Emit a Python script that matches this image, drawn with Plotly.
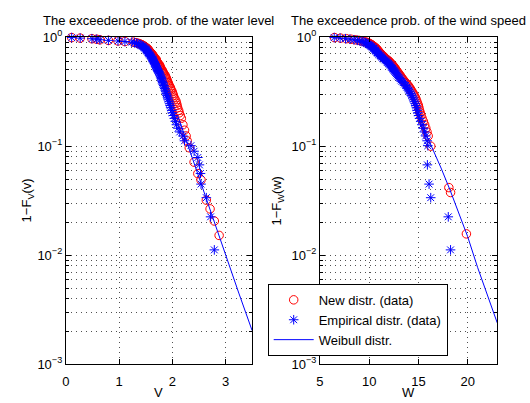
import plotly.graph_objects as go
from plotly.subplots import make_subplots

W_PX, H_PX = 530, 403

# ---- water level V ----
water_new_v = [2.88, 2.79, 2.71, 2.64, 2.54, 2.48, 2.41, 2.32, 2.28, 2.26, 2.23, 2.20, 2.17, 2.15, 2.13, 2.12,
               2.10, 2.09, 2.08, 2.07, 2.05, 2.03, 2.02, 2.01, 2.00, 1.98,
               1.97, 1.96, 1.94, 1.93, 1.92, 1.91, 1.90, 1.89, 1.88, 1.87,
               1.86, 1.84, 1.83, 1.82, 1.81, 1.80, 1.78, 1.77, 1.77, 1.76,
               1.75, 1.73, 1.72, 1.71, 1.70, 1.70, 1.69, 1.67, 1.66, 1.65,
               1.64, 1.63, 1.62, 1.61, 1.59, 1.58, 1.57, 1.56, 1.55, 1.54,
               1.53, 1.51, 1.49, 1.48, 1.46, 1.44, 1.42, 1.39, 1.36, 1.32, 1.27,
               1.11, 0.98, 0.80, 0.64, 0.58, 0.49, 0.27, 0.11]
water_new_p = [0.0152, 0.0206, 0.0266, 0.032, 0.049, 0.056, 0.0714, 0.0966, 0.112, 0.124, 0.140, 0.157, 0.180, 0.191, 0.202, 0.213,
               0.225, 0.236, 0.247, 0.258, 0.270, 0.281, 0.292, 0.303, 0.315, 0.326,
               0.337, 0.348, 0.360, 0.371, 0.382, 0.393, 0.404, 0.416, 0.427, 0.438,
               0.449, 0.461, 0.472, 0.483, 0.494, 0.506, 0.517, 0.528, 0.539, 0.551,
               0.562, 0.573, 0.584, 0.596, 0.607, 0.618, 0.629, 0.640, 0.652, 0.663,
               0.674, 0.685, 0.697, 0.708, 0.719, 0.730, 0.742, 0.753, 0.764, 0.775,
               0.787, 0.798, 0.809, 0.820, 0.831, 0.843, 0.854, 0.865, 0.876, 0.888, 0.899,
               0.910, 0.921, 0.933, 0.944, 0.955, 0.966, 0.978, 0.989]

water_emp_v = [2.79, 2.72, 2.64, 2.54, 2.53, 2.51, 2.48, 2.41, 2.35, 2.23,
               2.20, 2.14, 2.11, 2.08, 2.06, 2.04, 2.02, 2.00, 1.99, 1.97,
               1.96, 1.95, 1.94, 1.92, 1.91, 1.90, 1.89, 1.88, 1.87, 1.86,
               1.85, 1.84, 1.83, 1.82, 1.81, 1.80, 1.80, 1.79, 1.78, 1.77,
               1.76, 1.75, 1.74, 1.73, 1.72, 1.71, 1.70, 1.70, 1.69, 1.68,
               1.67, 1.66, 1.65, 1.64, 1.64, 1.63, 1.62, 1.61, 1.60, 1.59,
               1.58, 1.57, 1.56, 1.55, 1.54, 1.53, 1.52, 1.51, 1.50, 1.49,
               1.48, 1.46, 1.45, 1.43, 1.41, 1.39, 1.36, 1.33, 1.29, 1.24,
               1.11, 0.98, 0.80, 0.64, 0.58, 0.49, 0.27, 0.11]
water_emp_p = [0.0112, 0.0225, 0.0337, 0.0449, 0.0562, 0.0674, 0.0787, 0.0899, 0.101, 0.112,
               0.124, 0.135, 0.146, 0.157, 0.169, 0.180, 0.191, 0.202, 0.213, 0.225,
               0.236, 0.247, 0.258, 0.270, 0.281, 0.292, 0.303, 0.315, 0.326, 0.337,
               0.348, 0.360, 0.371, 0.382, 0.393, 0.404, 0.416, 0.427, 0.438, 0.449,
               0.461, 0.472, 0.483, 0.494, 0.506, 0.517, 0.528, 0.539, 0.551, 0.562,
               0.573, 0.584, 0.596, 0.607, 0.618, 0.629, 0.640, 0.652, 0.663, 0.674,
               0.685, 0.697, 0.708, 0.719, 0.730, 0.742, 0.753, 0.764, 0.775, 0.787,
               0.798, 0.809, 0.820, 0.831, 0.843, 0.854, 0.865, 0.876, 0.888, 0.899,
               0.910, 0.921, 0.933, 0.944, 0.955, 0.966, 0.978, 0.989]

water_weib_v = [2.10, 2.20, 2.40, 2.60, 2.80, 3.00, 3.25, 3.50]
water_weib_p = [0.192, 0.138, 0.0720, 0.0372, 0.0195, 0.0100, 0.00450, 0.00204]

# ---- wind speed W ----
wind_new_w = [19.87, 18.26, 18.09, 16.25,
              15.99, 15.87, 15.75, 15.63, 15.50, 15.37, 15.27, 15.19, 15.11, 15.05,
              14.99, 14.91, 14.83, 14.75, 14.67, 14.57, 14.48, 14.37, 14.27, 14.17,
              14.07, 13.95, 13.83, 13.70, 13.58, 13.47, 13.37, 13.28, 13.19, 13.10,
              13.01, 12.93, 12.85, 12.77, 12.69, 12.63, 12.55, 12.47, 12.39, 12.30,
              12.21, 12.13, 12.05, 11.95, 11.85, 11.73, 11.63, 11.55, 11.47, 11.39,
              11.31, 11.23, 11.15, 11.08, 11.01, 10.95, 10.89, 10.83, 10.77, 10.71,
              10.63, 10.55, 10.47, 10.39, 10.30, 10.21, 10.11, 9.99, 9.87, 9.71,
              9.48, 9.22, 8.95, 8.58, 8.15, 7.68, 7.10, 6.48]
wind_new_p = [0.0157, 0.0376, 0.0417, 0.100,
              0.124, 0.135, 0.146, 0.157, 0.169, 0.180, 0.191, 0.202, 0.213, 0.225,
              0.236, 0.247, 0.258, 0.270, 0.281, 0.292, 0.303, 0.315, 0.326, 0.337,
              0.348, 0.360, 0.371, 0.382, 0.393, 0.404, 0.416, 0.427, 0.438, 0.449,
              0.461, 0.472, 0.483, 0.494, 0.506, 0.517, 0.528, 0.539, 0.551, 0.562,
              0.573, 0.584, 0.596, 0.607, 0.618, 0.629, 0.640, 0.652, 0.663, 0.674,
              0.685, 0.697, 0.708, 0.719, 0.730, 0.742, 0.753, 0.764, 0.775, 0.787,
              0.798, 0.809, 0.820, 0.831, 0.843, 0.854, 0.865, 0.876, 0.888, 0.899,
              0.910, 0.921, 0.933, 0.944, 0.955, 0.966, 0.978, 0.989]

wind_emp_w = [18.26, 18.03, 16.25, 16.08, 15.91,
              15.95, 15.88, 15.74, 15.62, 15.50, 15.38, 15.25, 15.12, 15.02, 14.94,
              14.86, 14.80, 14.74, 14.66, 14.58, 14.50, 14.42, 14.32, 14.23, 14.12,
              14.02, 13.92, 13.82, 13.70, 13.58, 13.45, 13.33, 13.22, 13.12, 13.03,
              12.94, 12.85, 12.76, 12.68, 12.60, 12.52, 12.44, 12.38, 12.30, 12.22,
              12.14, 12.05, 11.96, 11.88, 11.80, 11.70, 11.60, 11.48, 11.38, 11.30,
              11.22, 11.14, 11.06, 10.98, 10.90, 10.83, 10.76, 10.70, 10.64, 10.58,
              10.52, 10.46, 10.38, 10.30, 10.22, 10.14, 10.05, 9.96, 9.86, 9.74,
              9.62, 9.46, 9.28, 9.05, 8.80, 8.45, 8.05, 7.60, 7.05, 6.45]
wind_emp_p = [0.0112, 0.0225, 0.0337, 0.0449, 0.0674,
              0.101, 0.112, 0.124, 0.135, 0.146, 0.157, 0.169, 0.180, 0.191, 0.202,
              0.213, 0.225, 0.236, 0.247, 0.258, 0.270, 0.281, 0.292, 0.303, 0.315,
              0.326, 0.337, 0.348, 0.360, 0.371, 0.382, 0.393, 0.404, 0.416, 0.427,
              0.438, 0.449, 0.461, 0.472, 0.483, 0.494, 0.506, 0.517, 0.528, 0.539,
              0.551, 0.562, 0.573, 0.584, 0.596, 0.607, 0.618, 0.629, 0.640, 0.652,
              0.663, 0.674, 0.685, 0.697, 0.708, 0.719, 0.730, 0.742, 0.753, 0.764,
              0.775, 0.787, 0.798, 0.809, 0.820, 0.831, 0.843, 0.854, 0.865, 0.876,
              0.888, 0.899, 0.910, 0.921, 0.933, 0.944, 0.955, 0.966, 0.978, 0.989]

wind_weib_w = [15.6, 16.42, 17.3, 18.2, 19.1, 20.0, 21.0, 22.0, 23.0]
wind_weib_p = [0.140, 0.0966, 0.0630, 0.0398, 0.0245, 0.0148, 0.00776, 0.00440, 0.00240]

decade_vals = [0.001, 0.01, 0.1, 1]
decade_text = ["10<sup>−3</sup>", "10<sup>−2</sup>", "10<sup>−1</sup>", "10<sup>0</sup>"]
water_xticks = [0, 1, 2, 3]
wind_xticks = [5, 10, 15, 20]

FONT = "Liberation Sans, Arial, Helvetica, sans-serif"
FS = 13
RED = "#ff0000"
BLUE = "#0000ff"


def px_x(p):
    return p / W_PX


def px_y(p):
    return 1 - p / H_PX


left_dom = [px_x(62.3), px_x(250.0)]
right_dom = [px_x(318.3), px_x(497.0)]
y_dom = [px_y(371.0), px_y(29.3)]

fig = make_subplots(rows=1, cols=2)


def add_panel(col, xs_new, ps_new, xs_emp, ps_emp, xs_w, ps_w, legend):
    fig.add_trace(go.Scatter(
        x=xs_new, y=ps_new, mode="markers", name="New distr. (data)",
        marker=dict(symbol="circle-open", size=8.5, color=RED, line=dict(width=1, color=RED)),
        cliponaxis=False, showlegend=legend), row=1, col=col)
    fig.add_trace(go.Scatter(
        x=xs_emp, y=ps_emp, mode="markers", name="Empirical distr. (data)",
        marker=dict(symbol="asterisk-open", size=8, color=BLUE, line=dict(width=1, color=BLUE)),
        cliponaxis=False, showlegend=legend), row=1, col=col)
    fig.add_trace(go.Scatter(
        x=xs_w, y=ps_w, mode="lines", name="Weibull distr.",
        line=dict(color=BLUE, width=1), showlegend=legend), row=1, col=col)


add_panel(1, water_new_v, water_new_p, water_emp_v, water_emp_p, water_weib_v, water_weib_p, False)
add_panel(2, wind_new_w, wind_new_p, wind_emp_w, wind_emp_p, wind_weib_w, wind_weib_p, True)

minor_vals = [m * 10 ** e for e in range(-3, 0) for m in range(2, 10)]

grid_style = dict(showgrid=True, gridcolor="#505050", griddash="1px,4px", gridwidth=1)
axis_common = dict(showline=True, linecolor="black", linewidth=1, mirror="ticks",
                   ticks="inside", ticklen=5, tickcolor="black", tickwidth=1,
                   zeroline=False, tickfont=dict(family=FONT, size=FS, color="black"),
                   **grid_style)

fig.update_xaxes(range=[0, 3.5], domain=left_dom, tickmode="array", tickvals=water_xticks,
                 ticklabelstandoff=5, **axis_common, row=1, col=1)
fig.update_xaxes(range=[5, 23], domain=right_dom, tickmode="array", tickvals=wind_xticks,
                 ticklabelstandoff=5, **axis_common, row=1, col=2)
for c in (1, 2):
    fig.update_yaxes(type="log", range=[-3, 0], domain=y_dom, tickmode="array",
                     tickvals=decade_vals, ticktext=decade_text,
                     minor=dict(tickmode="array", tickvals=minor_vals, ticks="inside", ticklen=3,
                                tickcolor="black", **grid_style),
                     **axis_common, row=1, col=c)

annots = [
    dict(text="The exceedence prob. of the water level", x=px_x(156), y=px_y(12.5)),
    dict(text="The exceedence prob. of the wind speed", x=px_x(407.6), y=px_y(12.5)),
    dict(text="V", x=px_x(156), y=px_y(400)),
    dict(text="W", x=px_x(407.6), y=px_y(400)),
    dict(text="1−F<sub>V</sub>(v)", x=px_x(24), y=px_y(200), textangle=-90),
    dict(text="1−F<sub>W</sub>(w)", x=px_x(276), y=px_y(200), textangle=-90),
]
for a in annots:
    fig.add_annotation(xref="paper", yref="paper", showarrow=False,
                       xanchor="center", yanchor="middle",
                       font=dict(family=FONT, size=FS, color="black"), **a)

fig.update_layout(
    width=W_PX, height=H_PX, margin=dict(l=0, r=0, t=0, b=0),
    paper_bgcolor="white", plot_bgcolor="white",
    font=dict(family=FONT, size=FS, color="black"),
    legend=dict(x=px_x(265.7), y=px_y(287), xanchor="left", yanchor="top",
                bgcolor="white", bordercolor="black", borderwidth=1,
                font=dict(family=FONT, size=FS, color="black"),
                itemwidth=40, tracegroupgap=0),
)

fig.write_html("out.html")
